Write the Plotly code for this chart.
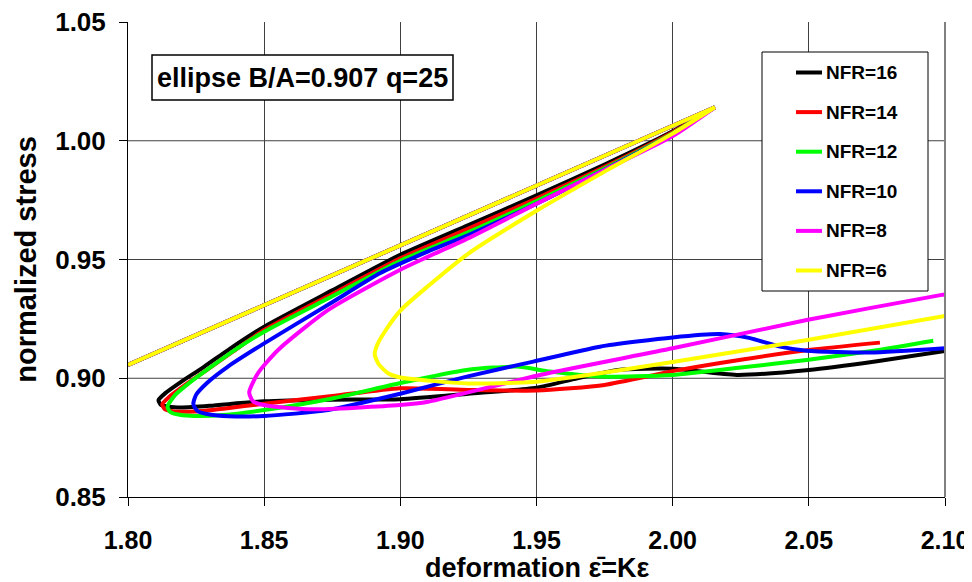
import plotly.graph_objects as go

# ---------------- data ----------------
SERIES_NAMES = ["NFR=16", "NFR=14", "NFR=12", "NFR=10", "NFR=8", "NFR=6"]
SERIES_COLORS = ["#000000", "#FF0000", "#00FF00", "#0000FF", "#FF00FF", "#FFFF00"]

X_TICKS = [1.80, 1.85, 1.90, 1.95, 2.00, 2.05, 2.10]
Y_TICKS = [0.85, 0.90, 0.95, 1.00, 1.05]
Y_GRID = [0.90, 0.95, 1.00]

# common linear (elastic) loading line up to the peak
LOAD_X = [1.80, 2.0155]
LOAD_Y = [0.9056, 1.0141]

NFR16_X = [2.0155, 2.00, 1.975, 1.95, 1.925, 1.90, 1.875, 1.85, 1.8375, 1.8275, 1.8195, 1.8140,
           1.8112, 1.8120, 1.8150, 1.8200, 1.830, 1.85, 1.875, 1.90, 1.925, 1.95, 1.965, 1.98,
           2.00, 2.0235, 2.05, 2.075, 2.10]
NFR16_Y = [1.0141, 1.0040, 0.9900, 0.9770, 0.9645, 0.9520, 0.9370, 0.9217, 0.9125, 0.9045, 0.8985, 0.8940,
           0.8908, 0.8889, 0.8880, 0.8877, 0.8884, 0.8903, 0.8910, 0.8912, 0.8935, 0.8960, 0.9000, 0.9035,
           0.9040, 0.9014, 0.9035, 0.9072, 0.9115]

NFR14_X = [2.0155, 2.00, 1.975, 1.95, 1.925, 1.90, 1.875, 1.85, 1.8385, 1.8290, 1.8210, 1.8155,
           1.8126, 1.8135, 1.8170, 1.8245, 1.835, 1.85, 1.875, 1.90, 1.925, 1.95, 1.975, 2.00, 2.025,
           2.05, 2.0761]
NFR14_Y = [1.0141, 1.0036, 0.9890, 0.9757, 0.9630, 0.9505, 0.9355, 0.9203, 0.9112, 0.9035, 0.8972, 0.8925,
           0.8890, 0.8870, 0.8860, 0.8860, 0.8872, 0.8893, 0.8925, 0.8958, 0.8951, 0.8948, 0.8972, 0.9030,
           0.9078, 0.9119, 0.9150]

NFR12_X = [2.0155, 2.00, 1.975, 1.95, 1.925, 1.90, 1.875, 1.85, 1.8400, 1.8306, 1.8230, 1.8175,
           1.8145, 1.8155, 1.8190, 1.8245, 1.835, 1.85, 1.875, 1.90, 1.9244, 1.9427, 1.955, 1.9733, 2.00,
           2.025, 2.0492, 2.075, 2.0957]
NFR12_Y = [1.0141, 1.0032, 0.9884, 0.9746, 0.9615, 0.9495, 0.9345, 0.9196, 0.9125, 0.9049, 0.8985, 0.8932,
           0.8880, 0.8858, 0.8846, 0.8841, 0.8845, 0.8866, 0.8915, 0.8980, 0.9035, 0.9049, 0.9028, 0.9007, 0.9014,
           0.9045, 0.9077, 0.9118, 0.9158]

NFR10_X = [2.0155, 2.00, 1.975, 1.95, 1.925, 1.91, 1.8925, 1.875, 1.85, 1.8367, 1.8290, 1.8250,
           1.8240, 1.8255, 1.8300, 1.8370, 1.85, 1.8734, 1.90, 1.9244, 1.9488, 1.9733, 2.00,
           2.0174, 2.028, 2.0394, 2.0492, 2.0725, 2.10]
NFR10_Y = [1.0141, 1.0028, 0.9878, 0.9735, 0.9603, 0.9533, 0.9442, 0.9320, 0.9147, 0.9049, 0.8980, 0.8930,
           0.8892, 0.8862, 0.8847, 0.8840, 0.8841, 0.8866, 0.8935, 0.9007, 0.9070, 0.9133, 0.9172,
           0.9186, 0.9170, 0.9133, 0.9116, 0.9108, 0.9126]

NFR8_X = [2.0155, 2.00, 1.975, 1.95, 1.925, 1.9102, 1.8998, 1.8734, 1.8551, 1.8477,
          1.8445, 1.8460, 1.8514, 1.8673, 1.8998, 1.9102, 1.9513, 2.00, 2.0492, 2.0988, 2.10]
NFR8_Y = [1.0141, 1.0020, 0.9877, 0.9735, 0.9590, 0.9512, 0.9456, 0.9287, 0.9119, 0.9021,
          0.8940, 0.8902, 0.8884, 0.8869, 0.8887, 0.8901, 0.9014, 0.9126, 0.9245, 0.9351, 0.9353]

NFR6_X = [2.0155, 2.00, 1.975, 1.95, 1.925, 1.91, 1.90, 1.8945, 1.8915,
          1.8906, 1.8920, 1.8955, 1.90, 1.9102, 1.925, 1.9488, 1.9733, 2.00, 2.05, 2.10]
NFR6_Y = [1.0141, 1.0030, 0.9870, 0.9705, 0.9525, 0.9386, 0.9285, 0.9200, 0.9140,
          0.9100, 0.9060, 0.9021, 0.9003, 0.8990, 0.8978, 0.8984, 0.9021, 0.9068, 0.9162, 0.9262]

SERIES_X = [NFR16_X, NFR14_X, NFR12_X, NFR10_X, NFR8_X, NFR6_X]
SERIES_Y = [NFR16_Y, NFR14_Y, NFR12_Y, NFR10_Y, NFR8_Y, NFR6_Y]

ANNOTATION_TEXT = "ellipse B/A=0.907 q=25"
X_TITLE = "deformation \u03b5\u0304=K\u03b5"
Y_TITLE = "normalized stress"

# ---------------- figure ----------------
FONT = "Liberation Sans, Arial, sans-serif"
PAGE_OFFSET = 8                      # default body margin of the html page
W, H = 972 - PAGE_OFFSET, 582 - PAGE_OFFSET
ML, MR, MT, MB = 128 - PAGE_OFFSET, 27, 22 - PAGE_OFFSET, 85
PLOT_L, PLOT_T = 128, 22             # page pixels of the plot area corner
PW, PH = 817, 475


def px2paper_x(px):
    return (px - PLOT_L) / PW


def px2paper_y(py):
    return (PLOT_T + PH - py) / PH


fig = go.Figure()
LINE_W = 4
for name, color, xs, ys in zip(SERIES_NAMES, SERIES_COLORS, SERIES_X, SERIES_Y):
    fig.add_trace(go.Scatter(x=LOAD_X, y=LOAD_Y, mode="lines", name=name, legendgroup=name,
                             showlegend=False, line=dict(color=color, width=LINE_W),
                             hoverinfo="skip"))
    fig.add_trace(go.Scatter(x=xs, y=ys, mode="lines", name=name, legendgroup=name,
                             showlegend=False,
                             line=dict(color=color, width=LINE_W, shape="spline", smoothing=0.6)))

shapes = []
annotations = []

# horizontal grid lines (none at the top edge, as in the reference)
for gy in Y_GRID:
    shapes.append(dict(type="line", xref="paper", yref="y", x0=0, x1=1, y0=gy, y1=gy,
                       line=dict(color="#404040", width=1), layer="below"))

# right border of the plot area
shapes.append(dict(type="line", xref="paper", yref="paper", x0=1, x1=1, y0=0, y1=1,
                   line=dict(color="#808080", width=2)))

# annotation box
shapes.append(dict(type="rect", xref="paper", yref="paper",
                   x0=px2paper_x(152), x1=px2paper_x(453), y0=px2paper_y(100), y1=px2paper_y(55),
                   line=dict(color="black", width=1.5), fillcolor="white", layer="above"))
annotations.append(dict(xref="paper", yref="paper", x=px2paper_x(302.5), y=px2paper_y(78),
                        text=ANNOTATION_TEXT, showarrow=False, xanchor="center", yanchor="middle",
                        font=dict(family=FONT, size=27, color="black", weight="bold")))

# legend box (custom)
shapes.append(dict(type="rect", xref="paper", yref="paper",
                   x0=px2paper_x(762), x1=px2paper_x(928), y0=px2paper_y(291), y1=px2paper_y(52),
                   line=dict(color="black", width=1), fillcolor="white", layer="above"))
for i, (name, color) in enumerate(zip(SERIES_NAMES, SERIES_COLORS)):
    ypx = 72.5 + i * 39.6
    shapes.append(dict(type="line", xref="paper", yref="paper",
                       x0=px2paper_x(796), x1=px2paper_x(822), y0=px2paper_y(ypx), y1=px2paper_y(ypx),
                       line=dict(color=color, width=4), layer="above"))
    annotations.append(dict(xref="paper", yref="paper", x=px2paper_x(824), y=px2paper_y(ypx),
                            text=name, showarrow=False, xanchor="left", yanchor="middle",
                            font=dict(family=FONT, size=19, color="black", weight="bold")))

# x-axis title
annotations.append(dict(xref="paper", yref="paper", x=px2paper_x(537), y=px2paper_y(568),
                        text=X_TITLE, showarrow=False, xanchor="center", yanchor="middle",
                        borderpad=0,
                        font=dict(family=FONT, size=27, color="black", weight="bold")))

fig.update_layout(
    width=W, height=H,
    margin=dict(l=ML, r=MR, t=MT, b=MB, autoexpand=False),
    paper_bgcolor="white", plot_bgcolor="white",
    showlegend=False,
    shapes=shapes, annotations=annotations,
    font=dict(family=FONT, color="black"),
)
fig.update_xaxes(
    range=[1.80, 2.10], tickvals=X_TICKS, ticktext=[f"{v:.2f}" for v in X_TICKS],
    showgrid=True, gridcolor="#404040", gridwidth=1, zeroline=False,
    showline=True, linecolor="black", linewidth=1,
    ticks="outside", ticklen=8, tickcolor="black", ticklabelstandoff=13,
    ticklabeloverflow="allow",
    tickfont=dict(family=FONT, size=25, color="black", weight="bold"),
    automargin=False,
)
fig.update_yaxes(
    range=[0.85, 1.05], tickvals=Y_TICKS, ticktext=[f"{v:.2f}" for v in Y_TICKS],
    showgrid=False, zeroline=False,
    showline=True, linecolor="black", linewidth=1,
    ticks="outside", ticklen=8, tickcolor="black", ticklabelstandoff=8,
    ticklabeloverflow="allow",
    tickfont=dict(family=FONT, size=26, color="black", weight="bold"),
    title=dict(text=Y_TITLE, standoff=10,
               font=dict(family=FONT, size=29, color="black", weight="bold")),
    automargin=False,
)

fig.write_html("out.html")
